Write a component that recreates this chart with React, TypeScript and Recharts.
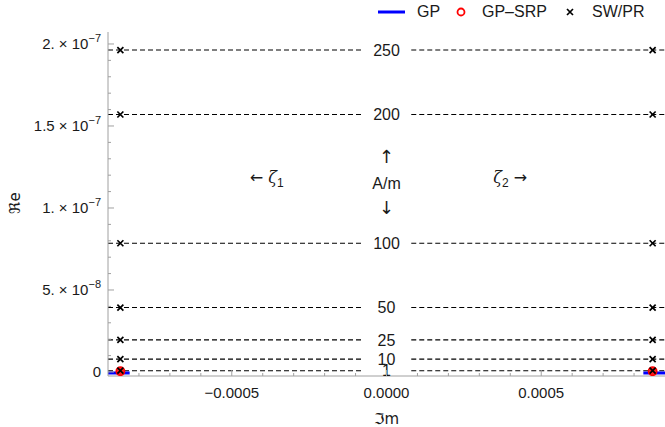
import React from 'react';
import { ComposedChart, Line, Scatter, XAxis, YAxis, Legend } from 'recharts';

// ---- data ----
const levelLabels = ['1', '10', '25', '50', '100', '200', '250']; // A/m
const levelRe = [7.85e-10, 7.85e-9, 1.96e-8, 3.93e-8, 7.85e-8, 1.57e-7, 1.963e-7];
const swprIm = [-0.00086, 0.00086];
const gpSrpIm = [-0.00086, 0.00086];
const gpSrpRe = [5e-10, 5e-10];
const gpLeftIm = [-0.0009, -0.00083];
const gpRightIm = [0.00083, 0.0009];
const gpRe = -6e-10;
const dashEndsIm = [-0.0009, -0.00008, 0.00008, 0.0009];

const xDomain = [-0.0009, 0.0009];
const yDomain = [-2.44e-9, 2.073e-7];

const yMajorTicks = [0, 5e-8, 1e-7, 1.5e-7, 2e-7];
const yMajorMant = ['0', '5.', '1.', '1.5', '2.'];
const yMajorExp = ['', '\u22128', '\u22127', '\u22127', '\u22127'];
const yMinorTicks = [
  1e-8, 2e-8, 3e-8, 4e-8, 6e-8, 7e-8, 8e-8, 9e-8, 1.1e-7, 1.2e-7, 1.3e-7, 1.4e-7,
  1.6e-7, 1.7e-7, 1.8e-7, 1.9e-7,
];
const xMajorTicks = [-0.0005, 0, 0.0005];
const xMajorLabels = ['\u22120.0005', '0.0000', '0.0005'];
const xMinorTicks = [
  -0.0008, -0.0007, -0.0006, -0.0004, -0.0003, -0.0002, -0.0001,
  0.0001, 0.0002, 0.0003, 0.0004, 0.0006, 0.0007, 0.0008,
];

const legendNames = ['GP', 'GP\u2013SRP', 'SW/PR'];

const annotations = [
  { x: 0, y: 1.311e-7, pre: '', arrowPre: '\u2191', sym: '', sub: '', arrowPost: '' },
  { x: 0, y: 1.152e-7, pre: 'A/m', arrowPre: '', sym: '', sub: '', arrowPost: '' },
  { x: 0, y: 1.0e-7, pre: '', arrowPre: '\u2193', sym: '', sub: '', arrowPost: '' },
  { x: -0.000387, y: 1.189e-7, pre: '', arrowPre: '\u2190 ', sym: '\u03B6', sub: '1', arrowPost: '' },
  { x: 0.0004, y: 1.189e-7, pre: '', arrowPre: '', sym: '\u03B6', sub: '2', arrowPost: ' \u2192' },
];

// ---- derived series ----
const dashData: { x: number; y: number | null }[] = [];
levelRe.forEach((v) => {
  dashData.push({ x: dashEndsIm[0], y: v });
  dashData.push({ x: dashEndsIm[1], y: v });
  dashData.push({ x: 0, y: null });
  dashData.push({ x: dashEndsIm[2], y: v });
  dashData.push({ x: dashEndsIm[3], y: v });
  dashData.push({ x: 0, y: null });
});
const gpLeft = gpLeftIm.map((x) => ({ x, y: gpRe }));
const gpRight = gpRightIm.map((x) => ({ x, y: gpRe }));
const gpSrpData = gpSrpIm.map((x, i) => ({ x, y: gpSrpRe[i] }));
const swprData: { x: number; y: number }[] = [];
levelRe.forEach((v) => swprIm.forEach((x) => swprData.push({ x, y: v })));
const levelLabelData = levelRe.map((v, i) => ({ x: 0, y: v, label: levelLabels[i] }));

const W = 665;
const H = 427;
const PLOT_LEFT = 108;
const PLOT_TOP = 32;
const PLOT_BOTTOM = 376;
const FONT = '"Liberation Sans", Arial, sans-serif';
const ARROWFONT = '"DejaVu Sans", sans-serif';
const FRAME = '#a0a0a0';
const TXT = '#1a1a1a';

const YTick = (props: any) => {
  const { y, payload } = props;
  const idx = yMajorTicks.findIndex((v) => Math.abs(v - payload.value) < 1e-12);
  const major = idx >= 0;
  return (
    <g>
      <line x1={PLOT_LEFT} x2={PLOT_LEFT + (major ? 6 : 3)} y1={y} y2={y} stroke={FRAME} strokeWidth={1} />
      {major && (
        <text x={101} y={y + 5} textAnchor="end" fontSize={15} fontFamily={FONT} fill={TXT}>
          {yMajorMant[idx]}
          {yMajorExp[idx] ? ' \u00D7 10' : ''}
          {yMajorExp[idx] ? (
            <tspan dy={-7} fontSize={11}>
              {yMajorExp[idx]}
            </tspan>
          ) : null}
        </text>
      )}
    </g>
  );
};

const XTickBottom = (props: any) => {
  const { x, payload } = props;
  const idx = xMajorTicks.findIndex((v) => Math.abs(v - payload.value) < 1e-12);
  const major = idx >= 0;
  return (
    <g>
      <line x1={x} x2={x} y1={PLOT_BOTTOM} y2={PLOT_BOTTOM - (major ? 6 : 3)} stroke={FRAME} strokeWidth={1} />
      {major && (
        <text x={x} y={398} textAnchor="middle" fontSize={15} fontFamily={FONT} fill={TXT}>
          {xMajorLabels[idx]}
        </text>
      )}
    </g>
  );
};

const XTickTop = (props: any) => {
  const { x, payload } = props;
  const idx = xMajorTicks.findIndex((v) => Math.abs(v - payload.value) < 1e-12);
  const major = idx >= 0;
  return (
    <line x1={x} x2={x} y1={PLOT_TOP} y2={PLOT_TOP + (major ? 6 : 3)} stroke={FRAME} strokeWidth={1} />
  );
};

const Cross = (props: any) => {
  const { cx, cy } = props;
  const s = 3;
  return (
    <path
      d={`M${cx - s},${cy - s}L${cx + s},${cy + s}M${cx - s},${cy + s}L${cx + s},${cy - s}`}
      stroke="#000"
      strokeWidth={1.7}
      fill="none"
    />
  );
};

const RedCircle = (props: any) => {
  const { cx, cy } = props;
  return <circle cx={cx} cy={cy} r={4.2} fill="#ff2020" stroke="#ff0000" strokeWidth={1.5} />;
};

const LevelText = (props: any) => {
  const { cx, cy, payload } = props;
  return (
    <text x={cx} y={cy} dy="0.36em" textAnchor="middle" fontSize={16} fontFamily={FONT} fill={TXT}>
      {payload.label}
    </text>
  );
};

const AnnoText = (props: any) => {
  const { cx, cy, payload } = props;
  const hasSub = !!payload.sub;
  return (
    <text x={cx} y={cy} dy="0.36em" textAnchor="middle" fontSize={16} fontFamily={FONT} fill={TXT}>
      {payload.arrowPre ? (
        <tspan fontFamily={ARROWFONT} fontSize={hasSub ? 16 : 18}>
          {payload.arrowPre}
        </tspan>
      ) : null}
      {payload.pre}
      {payload.sym ? (
        <tspan fontStyle="italic" fontFamily='"DejaVu Serif", serif'>
          {payload.sym}
        </tspan>
      ) : null}
      {hasSub ? (
        <tspan dy={4} fontSize={12}>
          {payload.sub}
        </tspan>
      ) : null}
      {payload.arrowPost ? (
        <tspan dy={hasSub ? -4 : 0} fontFamily={ARROWFONT}>
          {payload.arrowPost}
        </tspan>
      ) : null}
    </text>
  );
};

const LegendContent = () => (
  <svg width={295} height={26}>
    <line x1={8} x2={35} y1={12} y2={12} stroke="#0000ff" strokeWidth={3} />
    <text x={47} y={17} fontSize={16} fontFamily={FONT} fill={TXT}>
      {legendNames[0]}
    </text>
    <circle cx={91} cy={12} r={3.5} fill="none" stroke="#ff0000" strokeWidth={1.8} />
    <text x={112} y={17} fontSize={16} fontFamily={FONT} fill={TXT}>
      {legendNames[1]}
    </text>
    <path d="M197,9L203,15M197,15L203,9" stroke="#000" strokeWidth={1.7} />
    <text x={222} y={17} fontSize={16} fontFamily={FONT} fill={TXT}>
      {legendNames[2]}
    </text>
  </svg>
);

export default function App() {
  return (
    <div style={{ position: 'absolute', left: 0, top: 0, width: W, height: H, background: '#fff' }}>
      <ComposedChart width={W} height={H} margin={{ top: PLOT_TOP, right: 0, left: 0, bottom: 0 }}>
        <XAxis
          xAxisId={0}
          type="number"
          dataKey="x"
          domain={xDomain}
          allowDataOverflow
          ticks={[...xMajorTicks, ...xMinorTicks]}
          interval={0}
          height={H - PLOT_BOTTOM}
          stroke={FRAME}
          tickLine={false}
          tick={<XTickBottom />}
          label={{
            content: (p: any) => (
              <text
                x={p.viewBox.x + p.viewBox.width / 2}
                y={419}
                dy="0.36em"
                textAnchor="middle"
                fontSize={15}
                fontFamily='"DejaVu Sans", sans-serif'
                fill={TXT}
              >
                {'\u2111m'}
              </text>
            ),
          }}
        />
        <XAxis
          xAxisId="top"
          orientation="top"
          type="number"
          dataKey="x"
          domain={xDomain}
          allowDataOverflow
          ticks={[...xMajorTicks, ...xMinorTicks]}
          interval={0}
          height={0}
          stroke={FRAME}
          tickLine={false}
          tick={<XTickTop />}
        />
        <YAxis
          type="number"
          domain={yDomain}
          allowDataOverflow
          ticks={[...yMajorTicks, ...yMinorTicks]}
          interval={0}
          width={PLOT_LEFT}
          stroke={FRAME}
          tickLine={false}
          tick={<YTick />}
          label={{
            content: () => (
              <text
                x={15}
                y={203}
                dy="0.36em"
                textAnchor="middle"
                fontSize={15}
                fontFamily='"DejaVu Sans", sans-serif'
                fill={TXT}
                transform="rotate(-90 15 203)"
              >
                {'\u211Ce'}
              </text>
            ),
          }}
        />
        <Legend
          layout="horizontal"
          verticalAlign="middle"
          align="center"
          wrapperStyle={{ position: 'absolute', left: 370, top: 0, width: 295 }}
          content={<LegendContent />}
        />
        <Line
          data={dashData}
          dataKey="y"
          stroke="#000"
          strokeWidth={1.1}
          strokeDasharray="5 3"
          dot={false}
          activeDot={false}
          connectNulls={false}
          isAnimationActive={false}
          legendType="none"
        />
        <Line data={gpLeft} dataKey="y" stroke="#0000ff" strokeWidth={3} dot={false} activeDot={false} isAnimationActive={false} />
        <Line data={gpRight} dataKey="y" stroke="#0000ff" strokeWidth={3} dot={false} activeDot={false} isAnimationActive={false} />
        <Scatter data={gpSrpData} dataKey="y" shape={<RedCircle />} isAnimationActive={false} />
        <Scatter data={swprData} dataKey="y" shape={<Cross />} isAnimationActive={false} />
        <Scatter data={levelLabelData} dataKey="y" shape={<LevelText />} isAnimationActive={false} />
        <Scatter data={annotations} dataKey="y" shape={<AnnoText />} isAnimationActive={false} />
      </ComposedChart>
    </div>
  );
}
